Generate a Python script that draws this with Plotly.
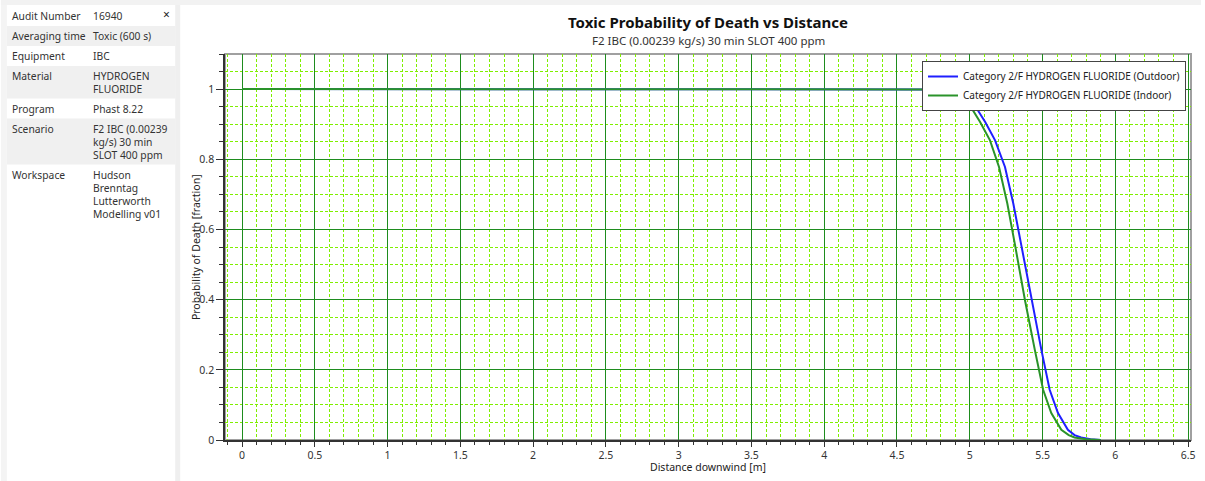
import plotly.graph_objects as go

# ---- data ----
dist_outdoor = [0, 4.6, 4.75, 4.85, 4.93, 5.0, 5.05, 5.106, 5.174, 5.242, 5.299, 5.356,
                5.424, 5.492, 5.549, 5.606, 5.674, 5.72, 5.765, 5.83, 5.9]
prob_outdoor = [1, 1, 0.999, 0.996, 0.986, 0.968, 0.943, 0.906, 0.854, 0.778, 0.674, 0.551,
                0.399, 0.257, 0.143, 0.077, 0.029, 0.014, 0.007, 0.002, 0]

dist_indoor = [0, 4.6, 4.72, 4.82, 4.9, 4.96, 5.0, 5.071, 5.139, 5.201, 5.258, 5.313,
               5.379, 5.447, 5.504, 5.56, 5.629, 5.68, 5.72, 5.8, 5.9]
prob_indoor = [1, 1, 0.999, 0.995, 0.982, 0.967, 0.954, 0.906, 0.854, 0.778, 0.674, 0.551,
               0.399, 0.257, 0.143, 0.077, 0.029, 0.014, 0.007, 0.002, 0]

series_names = ["Category 2/F HYDROGEN FLUORIDE (Outdoor)",
                "Category 2/F HYDROGEN FLUORIDE (Indoor)"]

info_labels = ["Audit Number", "Averaging time", "Equipment", "Material",
               "Program", "Scenario", "Workspace"]
info_values = [["16940"], ["Toxic (600 s)"], ["IBC"], ["HYDROGEN", "FLUORIDE"],
               ["Phast 8.22"], ["F2 IBC (0.00239", "kg/s) 30 min", "SLOT 400 ppm"],
               ["Hudson", "Brenntag", "Lutterworth", "Modelling v01"]]

title = "Toxic Probability of Death vs Distance"
subtitle = "F2 IBC (0.00239 kg/s) 30 min SLOT 400 ppm"
x_title = "Distance downwind [m]"
y_title = "Probability of Death [fraction]"

# ---- layout geometry (pixels) ----
W, H = 1205, 481
L, R, T, B = 225, 10, 54, 41
PW, PH = W - L - R, H - T - B
FONT = "Noto Sans, Open Sans, sans-serif"
TXT = "#333333"


def px(x):
    return (x - L) / PW


def py(y):
    return (H - B - y) / PH


def label(text, x, y, size=11, color=TXT, xanchor="left", **kw):
    return dict(text=text, xref="paper", yref="paper", x=px(x), y=py(y), xanchor=xanchor,
                yanchor="middle", showarrow=False, font=dict(family=FONT, size=size, color=color), **kw)


fig = go.Figure()
fig.add_trace(go.Scatter(x=dist_outdoor, y=prob_outdoor, mode="lines", name=series_names[0],
                         line=dict(color="#1f1fff", width=2)))
fig.add_trace(go.Scatter(x=dist_indoor, y=prob_indoor, mode="lines", name=series_names[1],
                         line=dict(color="#2a932a", width=2)))

shapes = []
annotations = []

# background panels
shapes.append(dict(type="rect", xref="paper", yref="paper", x0=px(0), x1=px(W), y0=py(0), y1=py(5),
                   fillcolor="#f2f2f2", line_width=0, layer="below"))
shapes.append(dict(type="rect", xref="paper", yref="paper", x0=px(0), x1=px(6), y0=py(5), y1=py(H),
                   fillcolor="#f4f4f4", line_width=0, layer="below"))
shapes.append(dict(type="rect", xref="paper", yref="paper", x0=px(175), x1=px(180), y0=py(5), y1=py(H),
                   fillcolor="#efefef", line_width=0, layer="below"))

# info table on the left
row_top = 6
for i, (lab, vals) in enumerate(zip(info_labels, info_values)):
    h = 20 if len(vals) == 1 else 13.3 * len(vals) + 6
    if i % 2 == 1:
        shapes.append(dict(type="rect", xref="paper", yref="paper", x0=px(6), x1=px(175),
                           y0=py(row_top), y1=py(row_top + h), fillcolor="#f0f0f0",
                           line_width=0, layer="below"))
    annotations.append(label(lab, 9, row_top + 10, size=10.3))
    for j, v in enumerate(vals):
        annotations.append(label(v, 90, row_top + 10 + 13.3 * j, size=10.3))
    row_top += h

annotations.append(label("×", 166, 14, size=12, color="#222222", xanchor="center"))

# plot border (top/right gray)
shapes.append(dict(type="rect", xref="paper", yref="paper", x0=0, x1=1, y0=0, y1=1,
                   line=dict(color="#a0a0a0", width=2), layer="below"))

# titles
mid = L + PW / 2
annotations.append(label("<b>" + title + "</b>", mid, 22, size=15, color="#111111", xanchor="center"))
annotations.append(label(subtitle, mid, 40, size=11.5, xanchor="center"))
annotations.append(label(x_title, mid, 467, size=10.5, color="#222222", xanchor="center"))
annotations.append(label(y_title, 196, (T + H - B) / 2, size=10.5, color="#222222",
                         xanchor="center", textangle=-90))

major_grid = "#1e8c1e"
minor_grid = "#7fef00"

fig.update_layout(
    width=W, height=H,
    margin=dict(l=L, r=R, t=T, b=B),
    paper_bgcolor="white", plot_bgcolor="white",
    font=dict(family=FONT, size=11, color=TXT),
    shapes=shapes, annotations=annotations,
    showlegend=True,
    legend=dict(x=px(1190), y=py(61), xanchor="right", yanchor="top",
                bgcolor="white", bordercolor="#444444", borderwidth=1,
                font=dict(family=FONT, size=10, color="#222222"),
                itemwidth=30, tracegroupgap=0),
    xaxis=dict(range=[-0.117, 6.52], tick0=0, dtick=0.5, showgrid=True, gridcolor=major_grid,
               gridwidth=1, zeroline=False, showline=True, linecolor="#333333", linewidth=1.5,
               ticks="outside", ticklen=5, tickcolor="#333333",
               tickfont=dict(family=FONT, size=10.5, color=TXT),
               minor=dict(dtick=0.1, tick0=0, showgrid=True, gridcolor=minor_grid, gridwidth=1,
                          griddash="3px,2px", ticks="outside", ticklen=3, tickcolor="#333333")),
    yaxis=dict(range=[0, 1.1], tick0=0, dtick=0.2, showgrid=True, gridcolor=major_grid,
               gridwidth=1, zeroline=False, showline=True, linecolor="#333333", linewidth=1.5,
               ticks="outside", ticklen=7, tickcolor="#333333",
               tickfont=dict(family=FONT, size=10.5, color=TXT),
               minor=dict(dtick=0.05, tick0=0, showgrid=True, gridcolor=minor_grid, gridwidth=1,
                          griddash="3px,2px", ticks="outside", ticklen=4, tickcolor="#333333")),
)

fig.write_html("out.html", config={"displayModeBar": False},
               post_script="document.body.style.margin='0';")
